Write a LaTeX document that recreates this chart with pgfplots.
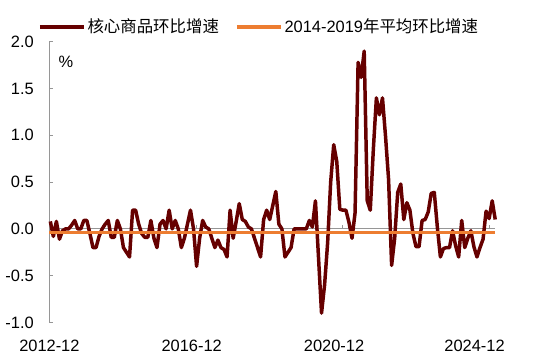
\documentclass[border=0pt]{standalone}
\usepackage{fontspec}
\setmainfont{Liberation Sans}
\newfontfamily\cjk{Noto Sans CJK SC}
\usepackage{pgfplots}
\pgfplotsset{compat=1.18}
\definecolor{dred}{RGB}{102,0,0}
\definecolor{eorange}{RGB}{237,125,49}
\definecolor{axgray}{RGB}{150,150,150}
\begin{document}
\fontsize{16.5}{19}\selectfont
\begin{tikzpicture}
\begin{axis}[
 scale only axis, width=448pt, height=282pt,
 xmin=-0.3, xmax=146, ymin=-1, ymax=2,
 axis lines*=left,
 x axis line style={draw=none},
 y axis line style={draw=axgray, line width=0.8pt},
 xtick={-0.3,46.4,93.1,139.2},
 xticklabels={2012-12,2016-12,2020-12,2024-12},
 x tick style={draw=none},
 ytick={-1,-0.5,0,0.5,1,1.5,2},
 y tick style={draw=axgray, line width=0.8pt},
 tick align=inside, major tick length=4pt,
 yticklabel style={/pgf/number format/.cd, fixed, fixed zerofill, precision=1, /tikz/.cd, xshift=-10pt},
 xticklabel style={yshift=-12pt},
 /pgf/number format/assume math mode=true,
 tick label style={font=\fontsize{16.5}{19}\selectfont},
 clip=false,
 legend style={draw=none, fill=none, at={(0.47,1.054)}, anchor=center,
   font=\fontsize{16.5}{19}\selectfont,
   /tikz/every even column/.append style={column sep=14pt}},
 legend columns=2,
 legend image code/.code={\draw[#1,line width=4pt] (0pt,0pt) -- (44pt,0pt);},
]
\coordinate (o) at (rel axis cs:0,0);
\draw[axgray, line width=0.8pt] (axis cs:-0.3,0) -- (axis cs:146,0);
\draw[axgray, line width=0.8pt] (axis cs:48,0) -- ++(0pt,4pt);
\draw[axgray, line width=0.8pt] (axis cs:96,0) -- ++(0pt,4pt);
\draw[axgray, line width=0.8pt] (axis cs:144,0) -- ++(0pt,4pt);
\addplot[dred, line width=3.5pt, line join=round] coordinates {
(0,0.08)(1,-0.08)(2,0.08)(3,-0.11)(4,-0.02)(5,0)(6,0)(7,0.04)(8,0.09)(9,0)
(10,0)(11,0.09)(12,0.09)(13,-0.05)(14,-0.2)(15,-0.2)(16,-0.08)(17,0)(18,0.05)(19,0.09)
(20,-0.09)(21,-0.09)(22,0.09)(23,0)(24,-0.2)(25,-0.25)(26,-0.3)(27,0.2)(28,0.2)(29,0.05)
(30,-0.05)(31,-0.09)(32,-0.09)(33,0.09)(34,-0.1)(35,-0.2)(36,0.05)(37,0.09)(38,0)(39,0.2)
(40,0)(41,0.09)(42,0)(43,-0.2)(44,-0.1)(45,0.05)(46,0.2)(47,0)(48,-0.4)(49,-0.1)
(50,0.09)(51,0.02)(52,0)(53,-0.1)(54,-0.2)(55,-0.12)(56,-0.2)(57,-0.22)(58,-0.3)(59,0.2)
(60,-0.1)(61,0.08)(62,0.27)(63,0.1)(64,0.08)(65,0.02)(66,0)(67,-0.1)(68,-0.2)(69,-0.3)
(70,0.1)(71,0.2)(72,0.1)(73,0.25)(74,0.4)(75,0.05)(76,0)(77,-0.3)(78,-0.25)(79,-0.2)
(80,0)(81,0)(82,0)(83,0)(84,0)(85,0.09)(86,0.02)(87,0.3)(88,-0.3)(89,-0.9)
(90,-0.6)(91,-0.15)(92,0.5)(93,0.9)(94,0.72)(95,0.21)(96,0.2)(97,0.2)(98,0.07)(99,-0.1)
(100,0.17)(101,1.78)(102,1.62)(103,1.9)(104,0.3)(105,0.2)(106,0.85)(107,1.4)(108,1.22)(109,1.4)
(110,0.99)(111,0.53)(112,-0.39)(113,-0.1)(114,0.39)(115,0.48)(116,0.1)(117,0.28)(118,0.2)(119,-0.05)
(120,-0.19)(121,-0.19)(122,0.09)(123,0.1)(124,0.18)(125,0.38)(126,0.39)(127,0.02)(128,-0.3)(129,-0.21)
(130,-0.2)(131,-0.2)(132,-0.02)(133,-0.18)(134,-0.3)(135,0.09)(136,-0.2)(137,-0.1)(138,-0.02)(139,-0.19)
(140,-0.3)(141,-0.2)(142,-0.11)(143,0.19)(144,0.11)(145,0.3)(146,0.1)
};
\addlegendentry{{\cjk 核心商品环比增速}}
\addplot[eorange, line width=3.5pt] coordinates {(-0.3,-0.04)(146,-0.04)};
\addlegendentry{2014-2019{\cjk 年平均环比增速}}
\node[anchor=west, inner sep=0pt] at (rel axis cs:0.02,0.93) {\%};
\end{axis}
\path (o) ++(-47pt,-37pt) rectangle ++(544pt,361pt);
\end{tikzpicture}
\end{document}
